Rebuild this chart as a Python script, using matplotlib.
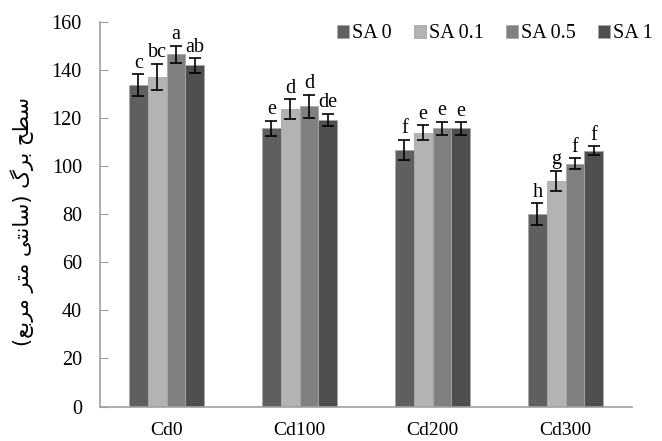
import numpy as np
import matplotlib
matplotlib.use('Agg')
import matplotlib.pyplot as plt

categories = ['Cd0', 'Cd100', 'Cd200', 'Cd300']
series = ['SA 0', 'SA 0.1', 'SA 0.5', 'SA 1']
colors = ['#5f5f5f', '#b3b3b3', '#808080', '#4f4f4f']

sa0 = [133.7, 115.7, 106.8, 80.1]
sa01 = [137.2, 123.8, 114.0, 94.0]
sa05 = [146.5, 124.9, 115.7, 101.1]
sa1 = [141.9, 119.2, 115.7, 106.4]

err0 = [4.5, 3.3, 4.2, 4.4]
err01 = [5.4, 4.0, 3.1, 4.2]
err05 = [3.7, 4.9, 2.8, 2.3]
err1 = [3.1, 2.6, 2.6, 1.8]

let0 = ['c', 'e', 'f', 'h']
let01 = ['bc', 'd', 'e', 'g']
let05 = ['a', 'd', 'e', 'f']
let1 = ['ab', 'de', 'e', 'f']

ylabel_text = 'سطح برگ (سانتی متر مربع)'

# presentation forms: isolated, final, initial, medial
FORMS = {
    'س': (0xFEB1, 0xFEB2, 0xFEB3, 0xFEB4),
    'ط': (0xFEC1, 0xFEC2, 0xFEC3, 0xFEC4),
    'ح': (0xFEA1, 0xFEA2, 0xFEA3, 0xFEA4),
    'ب': (0xFE8F, 0xFE90, 0xFE91, 0xFE92),
    'ر': (0xFEAD, 0xFEAE, None, None),
    'گ': (0xFB92, 0xFB93, 0xFB94, 0xFB95),
    'ا': (0xFE8D, 0xFE8E, None, None),
    'ن': (0xFEE5, 0xFEE6, 0xFEE7, 0xFEE8),
    'ت': (0xFE95, 0xFE96, 0xFE97, 0xFE98),
    'ی': (0xFBFC, 0xFBFD, 0xFBFE, 0xFBFF),
    'م': (0xFEE1, 0xFEE2, 0xFEE3, 0xFEE4),
    'ع': (0xFEC9, 0xFECA, 0xFECB, 0xFECC),
}


def shape(text):
    out = []
    for i, ch in enumerate(text):
        if ch not in FORMS:
            out.append(ch)
            continue
        prev = text[i - 1] if i > 0 else ''
        nxt = text[i + 1] if i < len(text) - 1 else ''
        join_prev = prev in FORMS and FORMS[prev][2] is not None
        join_next = nxt in FORMS and FORMS[ch][2] is not None
        f = FORMS[ch]
        if join_prev and join_next:
            c = f[3]
        elif join_prev:
            c = f[1]
        elif join_next:
            c = f[2]
        else:
            c = f[0]
        out.append(chr(c))
    vis = ''.join(reversed(out))
    return vis.translate(str.maketrans('()', ')('))


plt.rcParams['font.family'] = ['Liberation Serif', 'DejaVu Sans']

fig = plt.figure(figsize=(6.62, 4.41), dpi=100)
ax = fig.add_axes([100 / 662, 1 - 406.5 / 441, 532 / 662, 384.5 / 441])

x = np.arange(len(categories))
w = 0.141
vals = [sa0, sa01, sa05, sa1]
errs = [err0, err01, err05, err1]
lets = [let0, let01, let05, let1]

for i in range(4):
    pos = x + (i - 1.5) * w
    ax.bar(pos, vals[i], w, color=colors[i], edgecolor='#a8a8a8',
           linewidth=0.6, label=series[i], zorder=2)
    ax.errorbar(pos, vals[i], yerr=errs[i], fmt='none', ecolor='black',
                elinewidth=1.2, capsize=4.5, capthick=1.2, zorder=3)
    for p, v, e, t in zip(pos, vals[i], errs[i], lets[i]):
        ax.text(p, v + e + 0.6, t, ha='center', va='bottom', fontsize=14.5)

ax.set_xlim(-0.5, 3.5)
ax.set_ylim(0, 160)
ax.set_yticks(np.arange(0, 161, 20))
ax.set_xticks(x)
ax.set_xticklabels(categories, fontsize=14)
ax.tick_params(axis='x', length=0, pad=11)
ax.tick_params(axis='y', direction='in', length=6, color='#a0a0a0',
               labelsize=14.5, pad=13)
for s in ['top', 'right']:
    ax.spines[s].set_visible(False)
for s in ['left', 'bottom']:
    ax.spines[s].set_color('#a0a0a0')
    ax.spines[s].set_linewidth(1.2)

ax.legend(loc='upper right', bbox_to_anchor=(1.055, 1.015), ncol=4, frameon=False,
          fontsize=14.5, handlelength=0.6, handleheight=0.6, handletextpad=0.15,
          columnspacing=1.1, borderaxespad=0)

fig.text(22 / 662, 1 - 222 / 441, shape(ylabel_text), rotation=90, ha='center',
         va='center', fontsize=15, family=['DejaVu Sans'])

fig.savefig('out.png', dpi=100)
